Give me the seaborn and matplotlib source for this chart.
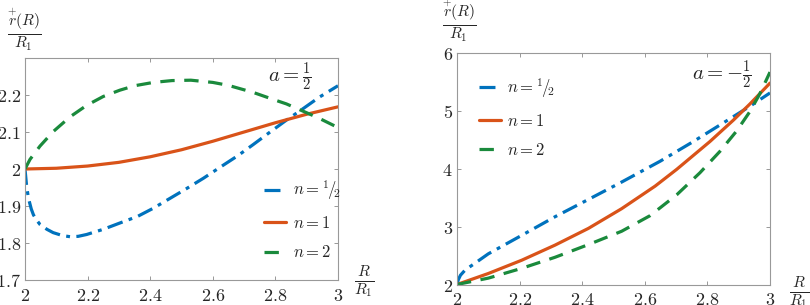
import numpy as np
import pandas as pd
import matplotlib
matplotlib.use("Agg")
import matplotlib.pyplot as plt
import seaborn as sns
from matplotlib.ticker import FuncFormatter

sns.set_theme(style="white")
plt.rcParams["font.family"] = ["DejaVu Serif"]
plt.rcParams["mathtext.fontset"] = "cm"

# ---- data ----
# left panel, a = 1/2
L_half_R = [2.0, 2.005, 2.011, 2.02, 2.027, 2.038, 2.048, 2.07, 2.09, 2.12, 2.144, 2.17, 2.197, 2.25, 2.303,
            2.36, 2.41, 2.46, 2.516, 2.57, 2.622, 2.68, 2.729, 2.78, 2.835, 2.89, 2.94, 3.0]
L_half_v = [2.0, 1.955, 1.921, 1.892, 1.876, 1.861, 1.850, 1.837, 1.828, 1.820, 1.817, 1.818, 1.823, 1.837, 1.854,
            1.872, 1.894, 1.919, 1.947, 1.975, 2.004, 2.036, 2.066, 2.098, 2.132, 2.164, 2.194, 2.225]
L_one_R = [2.0, 2.1, 2.2, 2.3, 2.4, 2.5, 2.6, 2.7, 2.8, 2.9, 3.0]
L_one_v = [2.0, 2.002, 2.008, 2.018, 2.033, 2.052, 2.075, 2.100, 2.125, 2.148, 2.168]
L_two_R = [2.0, 2.016, 2.048, 2.09, 2.144, 2.197, 2.25, 2.303, 2.35, 2.41, 2.47, 2.53, 2.6, 2.65,
           2.729, 2.8, 2.835, 2.9, 2.94, 3.0]
L_two_v = [2.0, 2.026, 2.062, 2.101, 2.141, 2.172, 2.196, 2.213, 2.225, 2.234, 2.239, 2.240, 2.234, 2.226,
           2.207, 2.186, 2.176, 2.152, 2.137, 2.112]

# right panel, a = -1/2
R_half_R = [2.0, 2.004, 2.011, 2.026, 2.058, 2.1, 2.207, 2.313, 2.42, 2.526, 2.649, 2.755, 2.862, 2.936, 3.0]
R_half_v = [2.0, 2.08, 2.16, 2.25, 2.37, 2.53, 2.85, 3.17, 3.47, 3.77, 4.13, 4.47, 4.83, 5.08, 5.31]
R_one_R = [2.0, 2.1, 2.207, 2.313, 2.42, 2.526, 2.633, 2.702, 2.808, 2.883, 2.936, 3.0]
R_one_v = [2.0, 2.19, 2.42, 2.68, 2.97, 3.31, 3.70, 3.99, 4.47, 4.84, 5.12, 5.48]
R_two_R = [2.0, 2.1, 2.207, 2.313, 2.42, 2.526, 2.617, 2.702, 2.776, 2.84, 2.893, 2.936, 2.968, 3.0]
R_two_v = [2.0, 2.11, 2.28, 2.47, 2.69, 2.92, 3.19, 3.55, 3.93, 4.30, 4.65, 4.99, 5.30, 5.67]

labels = [r"$n={}^{1}\!/\!{}_{2}$", r"$n=1$", r"$n=2$"]
xticks = [2, 2.2, 2.4, 2.6, 2.8, 3]
yticks_left = [1.7, 1.8, 1.9, 2.0, 2.1, 2.2]
yticks_right = [2, 3, 4, 5, 6]

colors = ["#0072BD", "#D95319", "#1A8A3C"]
styles = [(0, (5, 2, 1.2, 2)), "-", (0, (4.5, 3))]

fig = plt.figure(figsize=(8.1, 3.05), dpi=100)
axL = fig.add_axes([25/810, 25/305, 313/810, 222/305])
axR = fig.add_axes([457/810, 20.5/305, 313/810, 231.5/305])

def draw(ax, series):
    for (xs, ys), lab, c, ls in zip(series, labels, colors, styles):
        sns.lineplot(x=xs, y=ys, ax=ax, color=c, linestyle=ls, linewidth=2.3, label=lab,
                     sort=False, estimator=None)

draw(axL, [(L_half_R, L_half_v), (L_one_R, L_one_v), (L_two_R, L_two_v)])
draw(axR, [(R_half_R, R_half_v), (R_one_R, R_one_v), (R_two_R, R_two_v)])

fmt = FuncFormatter(lambda v, p: f"${v:g}$")
for ax, yl, yt in [(axL, (1.7, 2.3), yticks_left), (axR, (2, 6), yticks_right)]:
    ax.set_xlim(2, 3)
    ax.set_ylim(*yl)
    ax.set_xticks(xticks)
    ax.set_yticks(yt)
    ax.xaxis.set_major_formatter(fmt)
    ax.yaxis.set_major_formatter(fmt)
    ax.tick_params(direction="in", length=3, width=0.6, color="#888888", labelsize=13,
                   top=True, right=True, bottom=True, left=True, pad=3)
    ax.tick_params(axis="x", pad=5)
    for s in ax.spines.values():
        s.set_color("#999999")
        s.set_linewidth(0.8)
    ax.set_xlabel("")
    ax.set_ylabel("")

legL = axL.legend(loc="center left", bbox_to_anchor=(0.765, 0.27), frameon=False, fontsize=12,
                  handlelength=1.3, handletextpad=0.4, labelspacing=0.75, borderaxespad=0, borderpad=0)
legR = axR.legend(loc="center left", bbox_to_anchor=(0.07, 0.72), frameon=False, fontsize=12,
                  handlelength=1.3, handletextpad=0.4, labelspacing=0.75, borderaxespad=0, borderpad=0)

fig.text(290/810, 1 - 77/305, r"$a=\frac{1}{2}$", ha="center", va="center", fontsize=15)
fig.text(722/810, 1 - 75/305, r"$a=-\frac{1}{2}$", ha="center", va="center", fontsize=15)

ylab = r"$\frac{\overset{+}{r}(R)}{R_1}$"
fig.text(24/810, 1 - 30/305, ylab, ha="center", va="center", fontsize=16)
fig.text(459/810, 1 - 21/305, ylab, ha="center", va="center", fontsize=16)
xlab = r"$\frac{R}{R_1}$"
fig.text(364/810, 1 - 282/305, xlab, ha="center", va="center", fontsize=16)
fig.text(799/810, 1 - 293/305, xlab, ha="center", va="center", fontsize=16)

fig.savefig("out.png", dpi=100)
